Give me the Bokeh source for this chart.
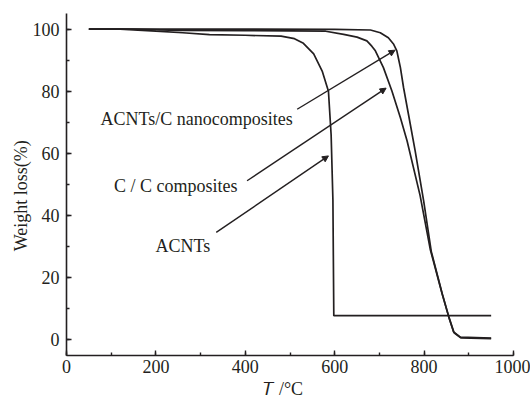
from bokeh.plotting import figure
from bokeh.models import Label, Arrow, NormalHead, SingleIntervalTicker, Range1d
from bokeh.embed import file_html
from bokeh.resources import INLINE

# ---- data ----
acnt_T = [50, 120, 200, 260, 320, 400, 480, 510, 530, 553, 572, 586, 592, 596, 598, 950]
acnt_W = [100, 100, 99.3, 98.8, 98.2, 98.0, 97.7, 96.9, 95.4, 92.0, 86.5, 80.0, 66.0, 45.0, 7.8, 7.8]

cc_T = [50, 150, 250, 400, 580, 620, 650, 672, 683, 691, 709, 728, 747, 762, 791, 814, 840, 855, 866, 881, 950]
cc_W = [100, 100, 99.6, 99.5, 99.3, 98.3, 97.4, 96.2, 94.5, 93.0, 87.6, 80.1, 71.5, 64.0, 46.5, 29.0, 15.0, 7.5, 2.6, 0.9, 0.6]

nano_T = [50, 300, 600, 680, 702, 720, 732, 739, 743, 747, 754, 765, 780, 799, 816, 841, 856, 867, 882, 950]
nano_W = [100, 100, 99.9, 99.7, 98.8, 97.2, 95.1, 93.0, 90.3, 87.6, 81.2, 72.6, 60.8, 44.7, 28.5, 14.6, 7.1, 2.3, 0.7, 0.4]

labels = ["ACNTs/C nanocomposites", "C / C composites", "ACNTs"]
label_x = [76, 106, 199]
label_y = [71.2, 49.6, 30.3]
arrow_x0 = [516, 404, 335]
arrow_y0 = [74.2, 51.2, 34.6]
arrow_x1 = [735, 715, 586]
arrow_y1 = [93.2, 81.0, 59.2]

x_title = "\U0001D447 /°C"
y_title = "Weight loss(%)"
x_ticks_interval = 200
y_ticks_interval = 20

INK = "#231f20"
FONT = "Liberation Serif"
NBSP = "\u00a0"

p = figure(width=530, height=402, output_backend="svg", toolbar_location=None,
           x_range=Range1d(0, 1000), y_range=Range1d(-5, 105),
           min_border_left=66, min_border_right=17, min_border_top=13, min_border_bottom=47)
p.outline_line_color = None
p.xgrid.grid_line_color = None
p.ygrid.grid_line_color = None
p.background_fill_color = "white"

p.xaxis.ticker = SingleIntervalTicker(interval=x_ticks_interval, num_minor_ticks=2)
p.yaxis.ticker = SingleIntervalTicker(interval=y_ticks_interval, num_minor_ticks=2)
for ax in (p.xaxis, p.yaxis):
    ax.axis_line_color = INK
    ax.axis_line_width = 1.6
    ax.major_tick_line_color = INK
    ax.minor_tick_line_color = INK
    ax.major_tick_line_width = 1.4
    ax.minor_tick_line_width = 1.4
    ax.major_tick_in = 5
    ax.major_tick_out = 0
    ax.minor_tick_in = 3
    ax.minor_tick_out = 0
    ax.major_label_text_font = FONT
    ax.major_label_text_font_size = "18px"
    ax.major_label_text_color = INK
    ax.axis_label_text_font = FONT
    ax.axis_label_text_font_size = "18px"
    ax.axis_label_text_font_style = "normal"
    ax.axis_label_text_color = INK
p.xaxis.major_label_standoff = 4
p.yaxis.major_label_standoff = 7

p.xaxis.axis_label = x_title + NBSP * 3
p.xaxis.axis_label_standoff = 3
p.yaxis.axis_label = y_title + NBSP * 5
p.yaxis.axis_label_standoff = -1

p.line(acnt_T, acnt_W, line_color=INK, line_width=1.7)
p.line(cc_T, cc_W, line_color=INK, line_width=1.7)
p.line(nano_T, nano_W, line_color=INK, line_width=1.7)

for txt, lx, ly in zip(labels, label_x, label_y):
    p.add_layout(Label(x=lx, y=ly, text=txt, text_font=FONT, text_font_size="18px",
                       text_color=INK, text_align="left", text_baseline="alphabetic"))

for x0, y0, x1, y1 in zip(arrow_x0, arrow_y0, arrow_x1, arrow_y1):
    p.add_layout(Arrow(x_start=x0, y_start=y0, x_end=x1, y_end=y1,
                       line_color=INK, line_width=1.4,
                       end=NormalHead(size=6, fill_color=INK, line_color=INK, line_width=1)))

open("out.html", "w").write(file_html(p, INLINE))
